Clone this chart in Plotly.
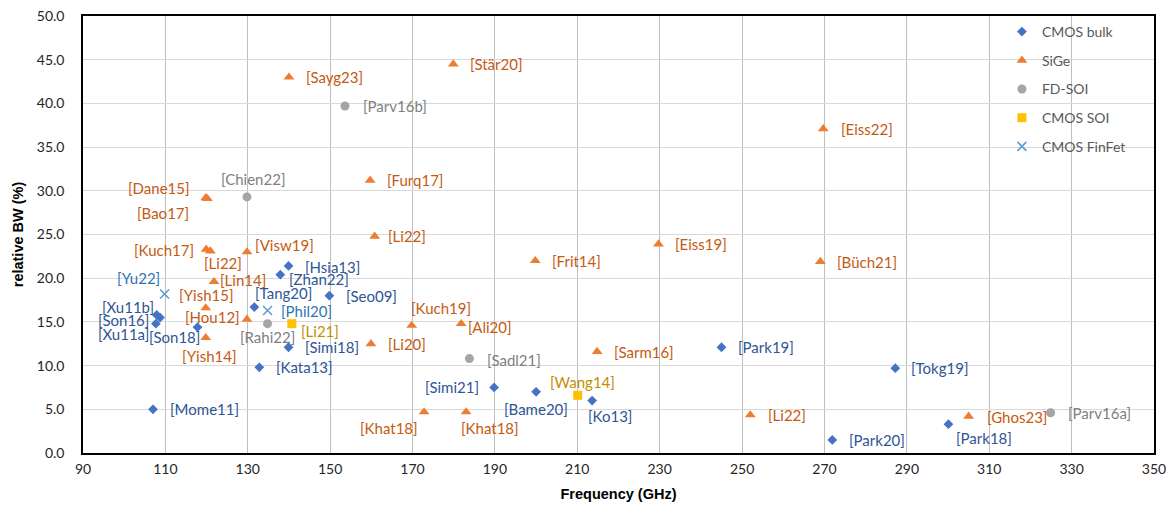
import plotly.graph_objects as go

# ---------------- data ----------------
bulk_labels = ["[Mome11]", "[Xu11b]", "[Son16]", "[Xu11a]", "[Son18]", "[Tang20]", "[Hsia13]",
               "[Zhan22]", "[Seo09]", "[Simi18]", "[Kata13]", "[Simi21]", "[Bame20]", "[Ko13]",
               "[Park19]", "[Tokg19]", "[Park20]", "[Park18]"]
bulk_f = [107.0, 107.9, 108.7, 107.7, 117.8, 131.6, 139.9, 137.9, 149.8, 139.9, 132.8, 189.8,
          200.0, 213.6, 245.0, 287.2, 271.9, 300.1]
bulk_bw = [5.0, 15.8, 15.5, 14.8, 14.4, 16.7, 21.4, 20.4, 18.0, 12.1, 9.8, 7.5, 7.0, 6.0,
           12.1, 9.7, 1.5, 3.3]

sige_labels = ["[Sayg23]", "[Stär20]", "[Eiss22]", "[Dane15]", "[Bao17]", "[Kuch17]", "[Li22]",
               "[Visw19]", "[Lin14]", "[Yish15]", "[Hou12]", "[Yish14]", "[Furq17]", "[Li22]",
               "[Kuch19]", "[Ali20]", "[Li20]", "[Khat18]", "[Khat18]", "[Frit14]", "[Eiss19]",
               "[Büch21]", "[Sarm16]", "[Li22]", "[Ghos23]"]
sige_f = [140.0, 179.9, 269.7, 119.8, 120.2, 119.9, 120.9, 129.8, 121.8, 119.8, 129.8, 119.8,
          159.7, 160.8, 169.8, 181.8, 159.9, 172.8, 183.0, 199.8, 229.7, 269.0, 214.8, 252.0, 305.0]
sige_bw = [43.0, 44.5, 37.1, 29.2, 29.1, 23.3, 23.1, 23.0, 19.6, 16.6, 15.3, 13.2,
           31.2, 24.8, 14.6, 14.8, 12.5, 4.7, 4.7, 22.0, 23.9, 21.9, 11.6, 4.35, 4.2]

fdsoi_labels = ["[Parv16b]", "[Chien22]", "[Rahi22]", "[Sadl21]", "[Parv16a]"]
fdsoi_f = [153.6, 129.8, 134.8, 183.8, 324.9]
fdsoi_bw = [39.7, 29.3, 14.8, 10.8, 4.6]

soi_labels = ["[Li21]", "[Wang14]"]
soi_f = [140.7, 210.1]
soi_bw = [14.8, 6.6]

finfet_labels = ["[Yu22]", "[Phil20]"]
finfet_f = [109.8, 134.8]
finfet_bw = [18.2, 16.3]

x_ticks = [90, 110, 130, 150, 170, 190, 210, 230, 250, 270, 290, 310, 330, 350]

# ---------------- label placement (style: anchor, x shift px, y shift px downward) ----------------
bulk_place = [("left", 16, 0), ("right", -2, -8), ("right", -10, 2), ("right", -6, 10),
              ("right", 3, 10), ("left", 0, -14), ("left", 15, 1), ("left", 8, 4),
              ("left", 16, 0), ("left", 15, 0), ("left", 16, 0), ("right", -14, 0),
              ("center", 0, 17), ("left", -5, 15), ("left", 16, 0), ("left", 15, 0),
              ("left", 16, 0), ("left", 7, 14)]
sige_place = [("left", 16, 0), ("left", 16, 0), ("left", 17, 0), ("right", -15, -10),
              ("right", -17, 14), ("right", -11, 1), ("center", 13, 12), ("left", 7, -7),
              ("left", 5, -2), ("center", 1, -13), ("right", -6, -2), ("center", 4, 18),
              ("left", 16, 0), ("left", 12, 0), ("left", -2, -17), ("left", 6, 3),
              ("left", 16, 0), ("right", -5, 16), ("left", -6, 16), ("left", 16, 0),
              ("left", 16, 0), ("left", 16, 0), ("left", 16, 0), ("left", 17, 0), ("left", 17, 1)]
fdsoi_place = [("left", 17, 0), ("center", 7, -18), ("center", 0, 13), ("left", 17, 1), ("left", 16, 0)]
soi_place = [("left", 8, 7), ("center", 5, -13)]
finfet_place = [("right", -4, -16), ("left", 12, 0)]

FONT = "Lato, Noto Sans, sans-serif"

series = [
    ("CMOS bulk", bulk_f, bulk_bw, bulk_labels, bulk_place,
     dict(symbol="diamond", size=7.5, color="#4472C4"), "#2F5597"),
    ("SiGe", sige_f, sige_bw, sige_labels, sige_place,
     dict(symbol="triangle-up", size=9.5, color="#ED7D31"), "#C55A11"),
    ("FD-SOI", fdsoi_f, fdsoi_bw, fdsoi_labels, fdsoi_place,
     dict(symbol="circle", size=9, color="#A5A5A5"), "#7F7F7F"),
    ("CMOS SOI", soi_f, soi_bw, soi_labels, soi_place,
     dict(symbol="square", size=9, color="#FFC000"), "#BF9000"),
    ("CMOS FinFet", finfet_f, finfet_bw, finfet_labels, finfet_place,
     dict(symbol="x-thin-open", size=9, color="#5B9BD5", line=dict(color="#5B9BD5", width=1.5)),
     "#2E75B6"),
]

fig = go.Figure()
annotations = []
for name, fx, bw, labels, place, marker, lcol in series:
    fig.add_trace(go.Scatter(x=fx, y=bw, mode="markers", name=name, marker=marker,
                             legendgroup=name, hoverinfo="x+y+text", text=labels))
    for xv, yv, lab, (anc, dx, dy) in zip(fx, bw, labels, place):
        annotations.append(dict(x=xv, y=yv, xref="x", yref="y", text=lab, showarrow=False,
                                xanchor=anc, yanchor="middle", xshift=dx, yshift=-dy,
                                font=dict(family=FONT, size=15, color=lcol), borderpad=0))

# page body has an 8px margin, so the figure is sized to fit inside the window
fig.update_layout(
    width=1158, height=494,
    margin=dict(l=75, r=12, t=8, b=49, autoexpand=False),
    paper_bgcolor="white", plot_bgcolor="white",
    font=dict(family=FONT, size=14, color="#262626"),
    annotations=annotations,
    showlegend=True,
    legend=dict(x=0.858, y=1.0, xanchor="left", yanchor="top", bgcolor="rgba(0,0,0,0)",
                font=dict(family=FONT, size=14, color="#595959"), tracegroupgap=7.5,
                itemwidth=30),
)
fig.update_xaxes(range=[90, 350], tickvals=x_ticks, ticktext=[str(v) for v in x_ticks],
                 showgrid=True, gridcolor="#BFBFBF", gridwidth=1.3, automargin=False,
                 showline=True, linecolor="black", linewidth=1.5, mirror=True,
                 ticks="", ticklabelstandoff=2, zeroline=False, ticklabeloverflow="allow",
                 tickfont=dict(family=FONT, size=14, color="#262626"),
                 title=dict(text="<b>Frequency (GHz)</b>", standoff=16,
                            font=dict(family="Liberation Sans, Arial, sans-serif", size=14.5, color="black")))
fig.update_yaxes(range=[0, 50], dtick=5, tickformat=".1f",
                 showgrid=True, gridcolor="#D9D9D9", gridwidth=1.3, automargin=False,
                 showline=True, linecolor="black", linewidth=1.5, mirror=True,
                 ticks="", ticklabelstandoff=14, zeroline=False, ticklabeloverflow="allow",
                 tickfont=dict(family=FONT, size=14, color="#262626"),
                 title=dict(text="<b>relative BW (%)</b>", standoff=10,
                            font=dict(family="Liberation Sans, Arial, sans-serif", size=14.5, color="black")))

fig.write_html("out.html")
